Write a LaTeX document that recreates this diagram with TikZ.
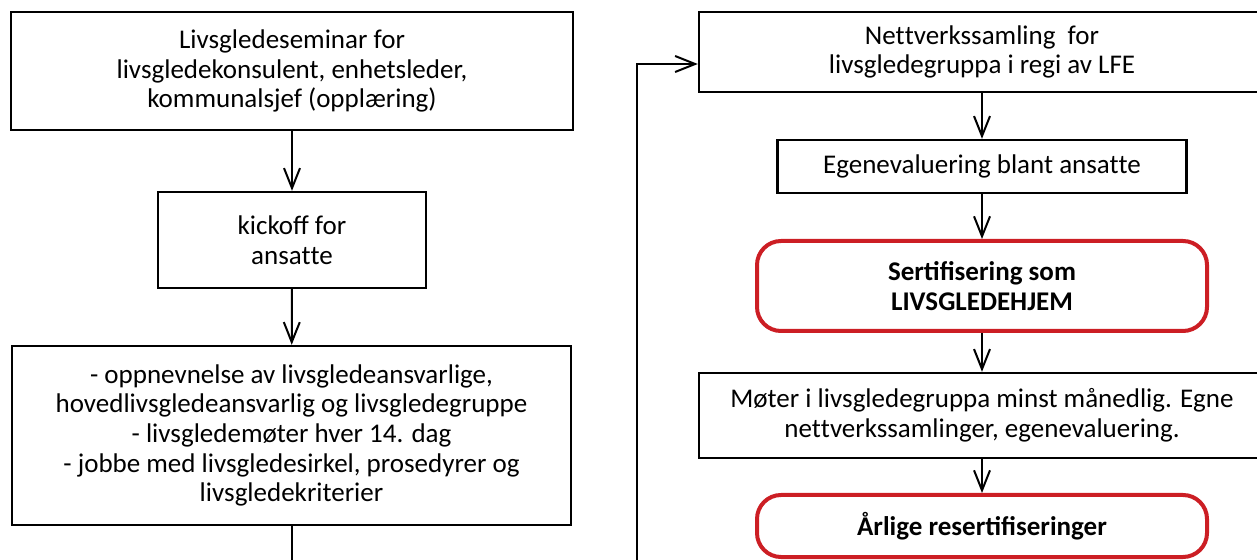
\documentclass[tikz,border=0pt]{standalone}
\usepackage{fontspec}
\setmainfont{Carlito}
\usepackage{xcolor}
\usetikzlibrary{arrows.meta, positioning}
\definecolor{livsred}{RGB}{204,30,36}
\newcommand\boxfont{\fontsize{13.5}{14.8}\selectfont}
% keep "t t" apart, as in the original lettering
\newcommand\nolig{\kern0pt}

\begin{document}
\begin{tikzpicture}[x=0.5pt, y=-0.5pt,
    box/.style={draw, line width=1.2pt, align=center, inner sep=0pt, font=\boxfont},
    redbox/.style={box, draw=livsred, line width=2pt, rounded corners=12pt, font=\boxfont\bfseries},
    arr/.style={-{Straight Barb[length=10pt,width=8pt]}, line width=1pt},
    link/.style={line width=1pt}]

\useasboundingbox (0,0) rectangle (1257,560);

% Left column
\node [box, minimum width=281pt, minimum height=59pt] (seminar) at (292,71)
    {Livsgledeseminar for\\livsgledekonsulent, enhetsleder,\\kommunalsjef (opplæring)};
\node [box, minimum width=134pt, minimum height=48pt] (kickoff) at (292,240)
    {kickoff for\\ansat\nolig te};
\node [box, minimum width=279.5pt, minimum height=89.5pt] (oppstart) at (291.5,435.5)
    {- oppnevnelse av livsgledeansvarlige,\\hovedlivsgledeansvarlig og livsgledegruppe\\- livsgledemøter hver 14. dag\\- jobbe med livsgledesirkel, prosedyrer og\\livsgledekriterier};

% Right column
\node [box, minimum width=283pt, minimum height=40pt] (nettverk) at (982,52)
    {Net\nolig tverkssamling~ for\\livsgledegruppa i regi av LFE};
\node [box, minimum width=204.5pt, minimum height=26.5pt] (egen) at (982,166.5)
    {Egenevaluering blant ansat\nolig te};
\node [redbox, minimum width=225pt, minimum height=45pt] (sert) at (982,286)
    {Sertifisering som\\LIVSGLEDEHJEM};
\node [box, minimum width=283pt, minimum height=42.5pt] (moter) at (982,415.5)
    {Møter i livsgledegruppa minst månedlig. Egne\\net\nolig tverkssamlinger, egenevaluering.};
\node [redbox, minimum width=225pt, minimum height=31pt] (aarlig) at (982,526)
    {Årlige resertifiseringer};

% Connectors
\draw [arr] (seminar) -- (kickoff);
\draw [arr] (kickoff) -- (oppstart);
\draw [arr] (nettverk) -- (egen);
\draw [arr] (egen) -- (sert);
\draw [arr] (sert) -- (moter);
\draw [arr] (moter) -- (aarlig);

% Loop back (cut at the lower edge)
\coordinate (leftfoot) at (291.5,560);
\coordinate (loopfoot) at (637,560);
\draw [link] (oppstart) -- (leftfoot);
\draw [arr] (loopfoot) |- ([yshift=-6pt]nettverk.west);

\end{tikzpicture}
\end{document}
